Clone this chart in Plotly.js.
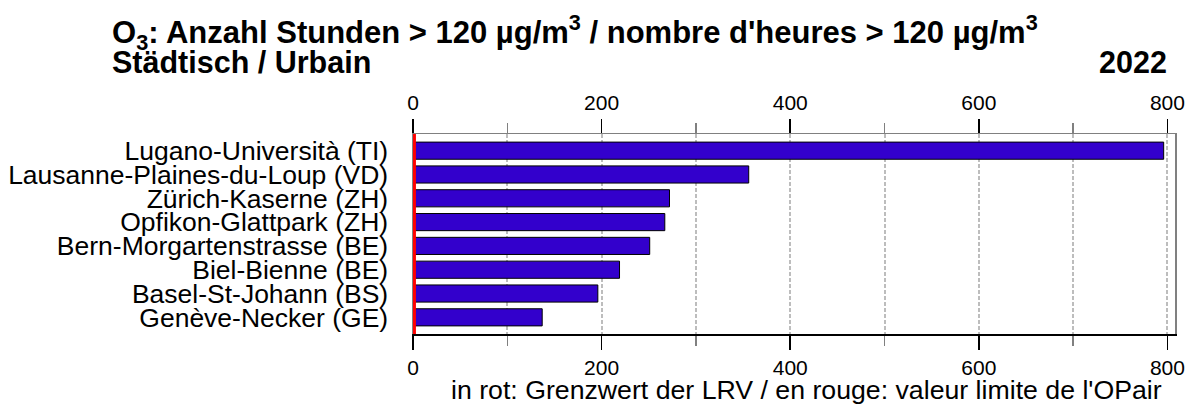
<!DOCTYPE html>
<html>
<head>
<meta charset="utf-8">
<script src="https://cdn.plot.ly/plotly-3.0.1.min.js"></script>
<style>
html,body{margin:0;padding:0;background:#fff;}
#chart{width:1199px;height:411px;}
</style>
</head>
<body>
<div id="chart"></div>
<script>
// ---- data ----
var stations = [
  "Lugano-Università (TI)",
  "Lausanne-Plaines-du-Loup (VD)",
  "Zürich-Kaserne (ZH)",
  "Opfikon-Glattpark (ZH)",
  "Bern-Morgartenstrasse (BE)",
  "Biel-Bienne (BE)",
  "Basel-St-Johann (BS)",
  "Genève-Necker (GE)"
];
var hours = [796, 356, 272, 267, 251, 219, 196, 137];
var limitValue = 1;
var titleLine1 = "O<sub>3</sub>: Anzahl Stunden > 120 µg/m<sup>3</sup> / nombre d'heures > 120 µg/m<sup>3</sup>";
var titleLine2 = "Städtisch / Urbain";
var yearText = "2022";
var noteText = "in rot: Grenzwert der LRV / en rouge: valeur limite de l'OPair";

// ---- layout geometry ----
var W = 1199, H = 411;
var M = {l: 413, r: 24, t: 134, b: 77};
var PW = W - M.l - M.r, PH = H - M.t - M.b;
function px(x){ return (x - M.l) / PW; }
function py(y){ return (H - M.b - y) / PH; }

var FONT = "Liberation Sans, Arial, Helvetica, sans-serif";
var GRID_DASH = "4px,2px";

var traces = [
  {
    type: "bar",
    orientation: "h",
    y: stations,
    x: hours,
    width: 0.72,
    marker: {color: "#3300cc", line: {color: "#000000", width: 1}},
    hoverinfo: "x+y",
    xaxis: "x",
    yaxis: "y"
  },
  {
    type: "scatter",
    mode: "markers",
    y: stations,
    x: hours,
    marker: {opacity: 0},
    hoverinfo: "skip",
    showlegend: false,
    xaxis: "x2",
    yaxis: "y"
  }
];

var axisCommon = {
  range: [0, 808],
  tick0: 0,
  dtick: 200,
  ticks: "outside",
  ticklen: 14,
  tickwidth: 1.5,
  tickcolor: "#000000",
  tickfont: {family: FONT, size: 21, color: "#000000"},
  showline: true,
  linewidth: 1.5,
  zeroline: false,
  fixedrange: true
};

var layout = {
  width: W,
  height: H,
  margin: M,
  paper_bgcolor: "#ffffff",
  plot_bgcolor: "#ffffff",
  showlegend: false,
  xaxis: Object.assign({}, axisCommon, {
    side: "bottom",
    anchor: "y",
    linecolor: "#000000",
    showgrid: true,
    gridcolor: "#bdbdbd",
    gridwidth: 2,
    griddash: GRID_DASH,
    minor: {
      dtick: 100,
      ticks: "outside",
      ticklen: 10,
      tickwidth: 1.5,
      tickcolor: "#808080",
      showgrid: true,
      gridcolor: "#bdbdbd",
      gridwidth: 2,
      griddash: GRID_DASH
    }
  }),
  xaxis2: Object.assign({}, axisCommon, {
    side: "top",
    overlaying: "x",
    anchor: "y",
    matches: "x",
    linecolor: "#808080",
    showgrid: false,
    minor: {
      dtick: 100,
      ticks: "outside",
      ticklen: 10,
      tickwidth: 1.5,
      tickcolor: "#808080",
      showgrid: false
    }
  }),
  yaxis: {
    type: "category",
    range: [7.7, -0.7],
    tickmode: "linear",
    tick0: 0,
    dtick: 1,
    showline: true,
    mirror: true,
    linecolor: "#808080",
    linewidth: 1.5,
    showgrid: false,
    zeroline: false,
    ticks: "",
    ticklabelstandoff: 18,
    tickfont: {family: FONT, size: 26.5, color: "#000000"},
    fixedrange: true
  },
  shapes: [
    {
      type: "line",
      xref: "x",
      yref: "paper",
      x0: limitValue, x1: limitValue,
      y0: 0, y1: 1,
      line: {color: "#ff0000", width: 4},
      layer: "above"
    }
  ],
  annotations: [
    {
      text: "<b>" + titleLine1 + "</b>",
      xref: "paper", yref: "paper",
      x: px(110), y: py(32),
      xanchor: "left", yanchor: "middle",
      showarrow: false,
      font: {family: FONT, size: 31, color: "#000000"}
    },
    {
      text: "<b>" + titleLine2 + "</b>",
      xref: "paper", yref: "paper",
      x: px(110), y: py(62),
      xanchor: "left", yanchor: "middle",
      showarrow: false,
      font: {family: FONT, size: 30.5, color: "#000000"}
    },
    {
      text: "<b>" + yearText + "</b>",
      xref: "paper", yref: "paper",
      x: px(1169), y: py(62),
      xanchor: "right", yanchor: "middle",
      showarrow: false,
      font: {family: FONT, size: 30.5, color: "#000000"}
    },
    {
      text: noteText,
      xref: "paper", yref: "paper",
      x: px(1164), y: py(390),
      xanchor: "right", yanchor: "middle",
      showarrow: false,
      font: {family: FONT, size: 26.7, color: "#000000"}
    }
  ]
};

Plotly.newPlot("chart", traces, layout, {displayModeBar: false, staticPlot: true});
</script>
</body>
</html>
